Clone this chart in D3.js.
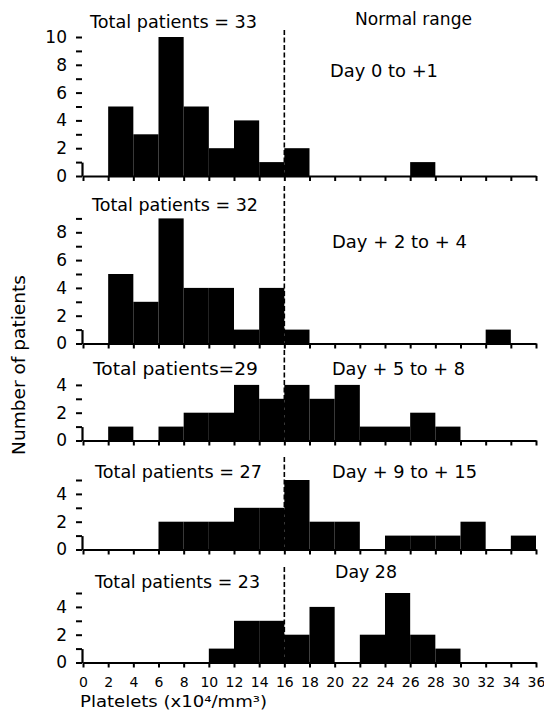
<!DOCTYPE html>
<html><head><meta charset="utf-8">
<script src="https://cdn.jsdelivr.net/npm/d3@7"></script>
<style>body{margin:0;background:#fff}svg{display:block}</style>
</head><body><svg id="c" width="544" height="713"></svg>
<script>
// ---- data ----
const binStarts = d3.range(0, 36, 2);          // platelet bins, width 2 (x10^4/mm3)
const xTickValues = d3.range(0, 37, 2);
const panelTitles = ["Total patients = 33", "Total patients = 32", "Total patients=29", "Total patients = 27", "Total patients = 23"];
const dayLabels = ["Day 0 to +1", "Day + 2 to + 4", "Day + 5 to + 8", "Day + 9 to + 15", "Day 28"];
const countsDay0to1  = [0,5,3,10,5,2,4,1,2,0,0,0,0,1,0,0,0,0];
const countsDay2to4  = [0,5,3,9,4,4,1,4,1,0,0,0,0,0,0,0,1,0];
const countsDay5to8  = [0,1,0,1,2,2,4,3,4,3,4,1,1,2,1,0,0,0];
const countsDay9to15 = [0,0,0,2,2,2,3,3,5,2,2,0,1,1,1,2,0,1];
const countsDay28    = [0,0,0,0,0,1,3,3,2,4,0,2,5,2,1,0,0,0];
const yAxisMax = [10, 9, 4, 5, 5];
const normalLimit = 16;
const normalRangeLabel = "Normal range";
const yTitle = "Number of patients";
const xTitle = "Platelets (x10\u2074/mm\u00B3)";
const allCounts = [countsDay0to1, countsDay2to4, countsDay5to8, countsDay9to15, countsDay28];

// ---- layout ----
const FONT = "'DejaVu Sans', 'Liberation Sans', sans-serif";
const unitPx = 13.9;
const layout = [
  {base:176,   dashTop:30,  title:{x:90, y:28,  w:167}, day:{x:330, y:77,  w:108}},
  {base:343.5, dashTop:186, title:{x:92, y:211, w:166}, day:{x:332, y:248, w:135}},
  {base:440.5, dashTop:350, title:{x:93, y:375, w:165}, day:{x:332, y:375, w:133}},
  {base:549.5, dashTop:457, title:{x:95, y:478, w:167}, day:{x:332, y:478, w:145}},
  {base:662.5, dashTop:567, title:{x:95, y:588, w:165}, day:{x:335, y:578, w:62}}
];

const svg = d3.select("#c");
const x = d3.scaleLinear().domain([0, 36]).range([83, 536]);

allCounts.forEach((counts, i) => {
  const L = layout[i];
  const y = d3.scaleLinear().domain([0, 1]).range([L.base, L.base - unitPx]);
  const g = svg.append("g");

  // dashed normal-range line
  g.append("line")
    .attr("x1", x(normalLimit)).attr("x2", x(normalLimit))
    .attr("y1", L.dashTop).attr("y2", L.base)
    .attr("stroke", "#000").attr("stroke-width", 1.6)
    .attr("stroke-dasharray", "5,2.5");

  // bars
  g.selectAll("rect").data(binStarts.map((s, k) => ({s, v: counts[k]})).filter(d => d.v > 0))
    .enter().append("rect")
    .attr("x", d => x(d.s))
    .attr("width", d => x(d.s + 2) - x(d.s))
    .attr("y", d => y(d.v))
    .attr("height", d => L.base - y(d.v))
    .attr("fill", "#000");

  // y axis
  const ya = d3.axisLeft(y).tickValues(d3.range(0, yAxisMax[i] + 1))
    .tickSize(6).tickSizeOuter(0).tickPadding(9)
    .tickFormat(d => d % 2 === 0 ? d : "");
  const yg = g.append("g").attr("transform", `translate(${x(0) - 1},0)`).call(ya);
  yg.select(".domain").attr("stroke-width", 2.2);
  yg.selectAll(".tick line").attr("stroke-width", 2);
  yg.selectAll("text").attr("font-family", FONT).attr("font-size", 17).attr("fill", "#000");

  // x axis
  const last = i === allCounts.length - 1;
  const xa = d3.axisBottom(x).tickValues(xTickValues).tickSize(5).tickSizeOuter(0).tickPadding(10)
    .tickFormat(d => last ? d : "");
  const xg = g.append("g").attr("transform", `translate(0,${L.base})`).call(xa);
  xg.select(".domain").attr("stroke-width", 2);
  xg.selectAll(".tick line").attr("stroke-width", 2);
  xg.selectAll("text").attr("font-family", FONT).attr("font-size", 14).attr("fill", "#000");

  // labels
  g.append("text").attr("x", L.title.x).attr("y", L.title.y)
    .attr("textLength", L.title.w).attr("lengthAdjust", "spacingAndGlyphs")
    .attr("font-family", FONT).attr("font-size", 17).text(panelTitles[i]);
  g.append("text").attr("x", L.day.x).attr("y", L.day.y)
    .attr("textLength", L.day.w).attr("lengthAdjust", "spacingAndGlyphs")
    .attr("font-family", FONT).attr("font-size", 17).text(dayLabels[i]);
});

svg.append("text").attr("x", 355).attr("y", 25)
  .attr("textLength", 117).attr("lengthAdjust", "spacingAndGlyphs")
  .attr("font-family", FONT).attr("font-size", 17).text(normalRangeLabel);

svg.append("text").attr("transform", "translate(25,365) rotate(-90)")
  .attr("text-anchor", "middle").attr("textLength", 180).attr("lengthAdjust", "spacingAndGlyphs")
  .attr("font-family", FONT).attr("font-size", 17).text(yTitle);

svg.append("text").attr("x", 80).attr("y", 707)
  .attr("textLength", 187).attr("lengthAdjust", "spacingAndGlyphs")
  .attr("font-family", FONT).attr("font-size", 16).text(xTitle);
</script></body></html>
